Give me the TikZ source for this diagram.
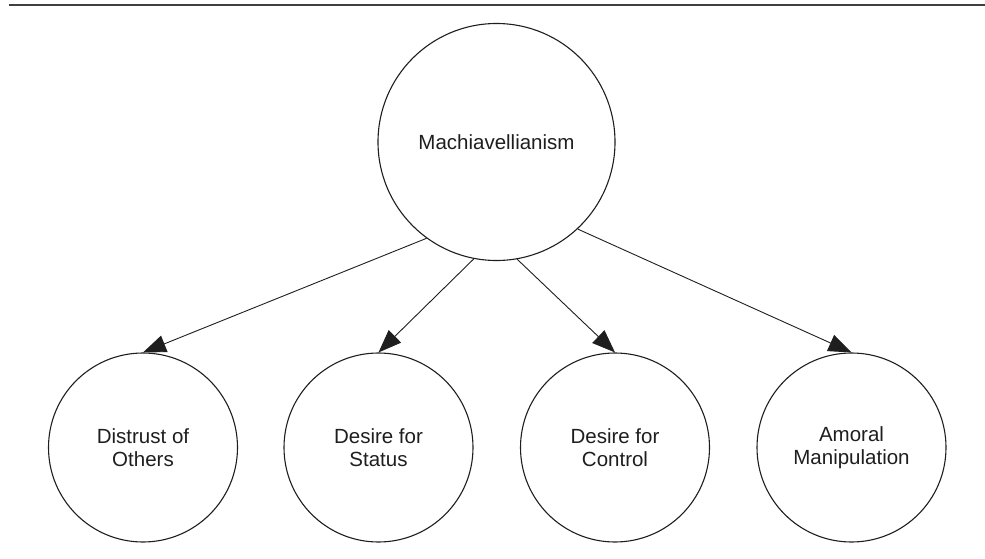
\documentclass[tikz,border=0pt]{standalone}
\usepackage{fontspec}
\setmainfont{Liberation Sans}
\usetikzlibrary{arrows.meta}
\definecolor{ink}{HTML}{1E1E1E}
\begin{document}
\begin{tikzpicture}[x=1pt,y=-1pt,
  bigc/.style={circle,draw=ink,line width=1.1pt,minimum size=237pt,inner sep=0pt,
    font=\fontsize{20.5}{23.5}\selectfont,text=ink,align=center},
  smallc/.style={circle,draw=ink,line width=1.1pt,minimum size=189pt,inner sep=0pt,
    font=\fontsize{20.5}{23.5}\selectfont,text=ink,align=center},
  conn/.style={draw=ink,line width=0.9pt,-{Triangle[length=23pt,width=17.5pt]}}]
\useasboundingbox (0,0) rectangle (985,559);
\coordinate (rl) at (9,5);
\coordinate (rr) at (985,5);
\draw[line width=1.5pt,color=black!75] (rl) -- (rr);
\node[bigc] (M) at (496.5,142) {Machiavellianism};
\node[smallc] (D) at (143,447.5) {Distrust of\\Others};
\node[smallc] (S) at (378.5,447.5) {Desire for\\Status};
\node[smallc] (C) at (615,447.5) {Desire for\\Control};
\node[smallc] (A) at (851.5,447.5) {Amoral\\Manipulation};
\draw[conn] (M.234.5) -- (D.north);
\draw[conn] (M.259.5) -- (S.north);
\draw[conn] (M.280.5) -- (C.north);
\draw[conn] (M.313.5) -- (A.north);
\end{tikzpicture}
\end{document}
